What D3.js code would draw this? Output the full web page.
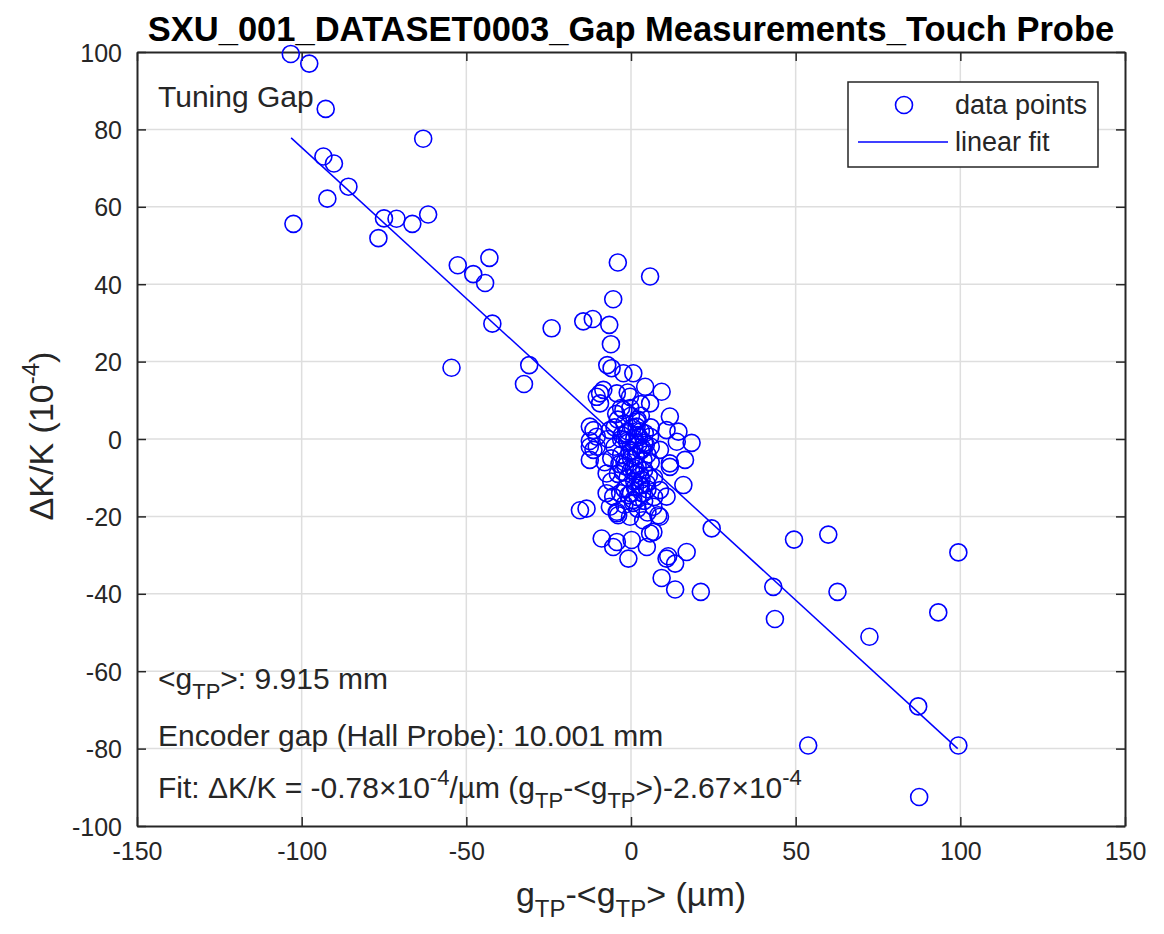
<!DOCTYPE html>
<html>
<head>
<meta charset="utf-8">
<script src="https://cdn.jsdelivr.net/npm/d3@7"></script>
<style>
  body { margin: 0; background: #fff; }
  text { font-family: "Liberation Sans", Arial, sans-serif; }
</style>
</head>
<body>
<div id="chart"></div>
<script>
// axis ticks
const xTicks = [-150, -100, -50, 0, 50, 100, 150];
const yTicks = [-100, -80, -60, -40, -20, 0, 20, 40, 60, 80, 100];

// measured points, gTP-<gTP> (um) and dK/K (1e-4)
const ptX = [
  -103.3, -97.7, -92.7, -63.1, -93.4, -90.2, -85.8, -92.2, -102.5, -75.0,
  -71.2, -76.7, -66.4, -61.6, -52.6, -47.9, -44.3, -43.0, -42.1, -24.1,
  -54.5, -30.9, -32.5, -4.0, 5.8, -5.4, -14.5, -11.6, -6.6, -6.1,
  -7.2, -5.9, -2.3, 0.7, 4.3, 9.3, 5.8, 11.8, 14.4, 18.4,
  16.4, 11.8, 15.9, -9.4, -10.4, -9.4, -8.4, -4.3, -0.3, -2.3,
  -12.5, -11.4, -10.4, -6.4, 1.7, 5.8, 8.8, -11.4, -12.5, -12.5,
  -10.4, -7.4, -3.3, -5.4, -7.4, 11.8, 8.8, 10.8, 6.8, 8.8,
  3.7, -0.3, -4.3, -15.5, -13.5, -6.4, 0.7, 13.9, -8.9, -4.3,
  -5.4, -0.8, 0.2, 4.8, 5.8, -3.9, 8.3, 10.8, 6.8, -4.3,
  10.8, -12.5,
  -4, -2, 0, 2, 3, -3, -1, 1, 3, 5,
  -5, -6, -2, 0, 2, 4, 6, -4, -1, 1,
  3, 5, -2, 0, 2, 4, -6, -8, -7, -5,
  6, 7, -1, 1, 3, -3, 2, 5, -2, 7,
  0, -3, 4, 6, 2, -1, 3,
  -1.5, 0.5, 2.5, 4.5, -3.5, -0.5, 1.5, 3.5, -2.5, 0.8,
  2.8, 4.2, -1.2, 1.2, 3.2, -0.8, 1.8, 3.8, -2.8, 0.2,
  2.2, 4.8, -1.8, 0.6, 2.6, -0.2, 1.4, 3.4, 5.4, -4.5,
  24.5, 49.5, 59.9, 99.4, 16.9, 11.3, 13.4, 9.3, 13.4, 21.2,
  43.2, 62.7, 43.7, 93.3, 72.4, 87.2, 99.4, 53.8, 87.5
];
const ptY = [
  99.5, 97.0, 85.3, 77.6, 73.0, 71.2, 65.2, 62.1, 55.6, 57.0,
  56.9, 51.9, 55.6, 58.0, 44.9, 42.6, 40.3, 46.8, 29.8, 28.6,
  18.4, 19.1, 14.2, 45.6, 42.0, 36.1, 30.4, 31.0, 29.5, 24.5,
  19.1, 18.3, 17.0, 17.0, 13.5, 12.2, 9.2, 5.8, 1.9, -1.0,
  -5.4, -7.2, -11.9, 11.8, 10.9, 9.2, 12.7, 11.8, 10.9, 7.5,
  3.2, 2.3, 0.6, 2.3, 3.2, 0.6, -2.8, -2.8, -2.0, -5.4,
  -2.0, -8.9, -14.0, -14.9, -14.0, -6.3, -13.2, -14.9, -17.5, -20.1,
  -21.0, -20.1, -19.2, -18.4, -18.0, -17.5, -15.8, -0.7, -25.7, -26.6,
  -27.9, -30.9, -26.1, -27.9, -24.4, -19.7, -19.7, -30.9, -24.0, -18.8,
  2.3, -0.5,
  5, 4, 6, 5, 2, 0, -1, -2, -3, -4,
  -2, -5, -6, -5, -7, -8, -6, -9, -10, -11,
  -12, -13, -13, -14, -15, -16, -11, -6, 0, 3,
  3, -10, 2, 0, 6, 8, -18, -19, -17, -15,
  -8, -4, -1, -2, 1, 12, 9,
  1.5, 3, 0.5, -1.5, -6.5, -3.5, -4.5, -2.5, -8.5, -7.5,
  -9.5, 1.5, -0.5, -12.5, -10.5, -14.5, 4.5, -5.5, 1, -3,
  -1.5, -11.5, -7, -16.5, -12, 8, -9, -14, -9.5, 6.5,
  -23.1, -26.0, -24.7, -29.3, -29.2, -30.3, -32.2, -35.9, -38.9, -39.5,
  -38.2, -39.5, -46.5, -44.8, -51.1, -69.1, -79.2, -79.2, -92.5
];

// linear fit end points
const fitX = [-103.2, 99.2];
const fitY = [77.8, -80.0];

const width = 1164, height = 934;
const margin = {top: 52, right: 39, bottom: 108, left: 137};
const ink = "#262626";

const svg = d3.select("#chart").append("svg")
  .attr("width", width)
  .attr("height", height);

const x = d3.scaleLinear([-150, 150], [margin.left, width - margin.right]);
const y = d3.scaleLinear([-100, 100], [height - margin.bottom, margin.top]);

// grid
svg.append("g")
  .selectAll("line")
  .data(xTicks.slice(1, -1))
  .join("line")
  .attr("x1", d => x(d)).attr("x2", d => x(d))
  .attr("y1", margin.top).attr("y2", height - margin.bottom)
  .attr("stroke", "#dedede").attr("stroke-width", 1.5);

svg.append("g")
  .selectAll("line")
  .data(yTicks.slice(1, -1))
  .join("line")
  .attr("y1", d => y(d)).attr("y2", d => y(d))
  .attr("x1", margin.left).attr("x2", width - margin.right)
  .attr("stroke", "#dedede").attr("stroke-width", 1.5);

// axes, ticks pointing inward like matlab
const tk = 9;
const plain = d => String(d);   // hyphen minus, not d3's unicode minus
const bottomAxis = svg.append("g")
  .attr("transform", `translate(0,${height - margin.bottom})`)
  .call(d3.axisBottom(x).tickValues(xTicks).tickFormat(plain).tickSizeInner(-tk).tickSizeOuter(0).tickPadding(16));
const topAxis = svg.append("g")
  .attr("transform", `translate(0,${margin.top})`)
  .call(d3.axisTop(x).tickValues(xTicks).tickSizeInner(-tk).tickSizeOuter(0).tickFormat(""));
const leftAxis = svg.append("g")
  .attr("transform", `translate(${margin.left},0)`)
  .call(d3.axisLeft(y).tickValues(yTicks).tickFormat(plain).tickSizeInner(-tk).tickSizeOuter(0).tickPadding(15));
const rightAxis = svg.append("g")
  .attr("transform", `translate(${width - margin.right},0)`)
  .call(d3.axisRight(y).tickValues(yTicks).tickSizeInner(-tk).tickSizeOuter(0).tickFormat(""));

[bottomAxis, topAxis, leftAxis, rightAxis].forEach(g => {
  g.select(".domain").attr("stroke", ink).attr("stroke-width", 2);
  g.selectAll(".tick line").attr("stroke", ink).attr("stroke-width", 1.5);
  g.selectAll(".tick text")
    .attr("fill", ink)
    .style("font-size", "25px")
    .style("font-family", "'Liberation Sans', Arial, sans-serif");
});
leftAxis.selectAll(".tick text").attr("dy", "0.36em");

// points
svg.append("g")
  .selectAll("circle")
  .data(ptX.map((d, i) => [d, ptY[i]]))
  .join("circle")
  .attr("cx", d => x(d[0]))
  .attr("cy", d => y(d[1]))
  .attr("r", 8.5)
  .attr("fill", "none")
  .attr("stroke", "#0000ff")
  .attr("stroke-width", 1.6);

// fit line
svg.append("path")
  .datum(fitX.map((d, i) => [d, fitY[i]]))
  .attr("d", d3.line().x(d => x(d[0])).y(d => y(d[1])))
  .attr("fill", "none")
  .attr("stroke", "#0000ff")
  .attr("stroke-width", 1.5);

// title
svg.append("text")
  .attr("x", (margin.left + width - margin.right) / 2)
  .attr("y", 41)
  .attr("text-anchor", "middle")
  .style("font-size", "34.5px")
  .style("font-weight", "bold")
  .attr("fill", "#000")
  .text("SXU_001_DATASET0003_Gap Measurements_Touch Probe");

// x label
const xl = svg.append("text")
  .attr("x", (margin.left + width - margin.right) / 2)
  .attr("y", 906)
  .attr("text-anchor", "middle")
  .attr("fill", ink)
  .style("font-size", "34px");
xl.append("tspan").text("g");
xl.append("tspan").attr("dy", 11).style("font-size", "24px").text("TP");
xl.append("tspan").attr("dy", -11).text("-<g");
xl.append("tspan").attr("dy", 11).style("font-size", "24px").text("TP");
xl.append("tspan").attr("dy", -11).text("> (µm)");

// y label
const yl = svg.append("text")
  .attr("transform", `translate(53,${(margin.top + height - margin.bottom) / 2 - 3}) rotate(-90)`)
  .attr("text-anchor", "middle")
  .attr("fill", ink)
  .style("font-size", "34px");
yl.append("tspan").text("ΔK/K (10");
yl.append("tspan").attr("dy", -14).style("font-size", "24px").text("-4");
yl.append("tspan").attr("dy", 14).text(")");

// annotations
const note = (yy) => svg.append("text")
  .attr("x", 158).attr("y", yy)
  .attr("fill", ink)
  .style("font-size", "30px");

note(107).text("Tuning Gap");

const n1 = note(689);
n1.append("tspan").text("<g");
n1.append("tspan").attr("dy", 10).style("font-size", "22px").text("TP");
n1.append("tspan").attr("dy", -10).text(">: 9.915 mm");

note(746).text("Encoder gap (Hall Probe): 10.001 mm");

const n3 = note(798);
n3.append("tspan").text("Fit: ΔK/K = -0.78×10");
n3.append("tspan").attr("dy", -13).style("font-size", "22px").text("-4");
n3.append("tspan").attr("dy", 13).text("/µm (g");
n3.append("tspan").attr("dy", 10).style("font-size", "22px").text("TP");
n3.append("tspan").attr("dy", -10).text("-<g");
n3.append("tspan").attr("dy", 10).style("font-size", "22px").text("TP");
n3.append("tspan").attr("dy", -10).text(">)-2.67×10");
n3.append("tspan").attr("dy", -13).style("font-size", "22px").text("-4");

// legend
const lg = svg.append("g");
lg.append("rect")
  .attr("x", 848).attr("y", 82).attr("width", 250).attr("height", 85)
  .attr("fill", "#fff").attr("stroke", ink).attr("stroke-width", 1.5);
lg.append("circle")
  .attr("cx", 904).attr("cy", 105).attr("r", 8.5)
  .attr("fill", "none").attr("stroke", "#0000ff").attr("stroke-width", 1.6);
lg.append("line")
  .attr("x1", 858).attr("x2", 948).attr("y1", 142).attr("y2", 142)
  .attr("stroke", "#0000ff").attr("stroke-width", 1.5);
lg.append("text").attr("x", 955).attr("y", 114).attr("fill", ink)
  .style("font-size", "27px").text("data points");
lg.append("text").attr("x", 955).attr("y", 151).attr("fill", ink)
  .style("font-size", "27px").text("linear fit");
</script>
</body>
</html>
